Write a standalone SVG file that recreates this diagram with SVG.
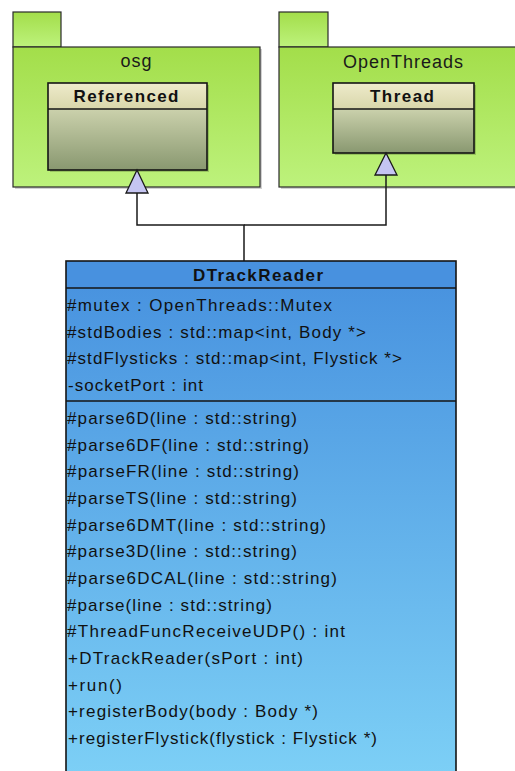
<svg xmlns="http://www.w3.org/2000/svg" width="515" height="771" viewBox="0 0 515 771">
  <defs>
    <linearGradient id="pkgFill" x1="0" y1="0" x2="0" y2="1">
      <stop offset="0" stop-color="#a3de4a"/>
      <stop offset="1" stop-color="#bdf27c"/>
    </linearGradient>
    <linearGradient id="hdrFill" x1="0" y1="0" x2="0" y2="1">
      <stop offset="0" stop-color="#eeebcb"/>
      <stop offset="1" stop-color="#d8d6aa"/>
    </linearGradient>
    <linearGradient id="bodyFill" x1="0" y1="0" x2="0" y2="1">
      <stop offset="0" stop-color="#cbd1ac"/>
      <stop offset="1" stop-color="#899870"/>
    </linearGradient>
    <linearGradient id="clsFill" x1="0" y1="0" x2="0" y2="1">
      <stop offset="0" stop-color="#4690de"/>
      <stop offset="1" stop-color="#7dd0f6"/>
    </linearGradient>
  </defs>
  <style>
    .pkg { fill: url(#pkgFill); stroke: #2a2a2a; stroke-width: 1.2; }
    .shadow { fill: #000; opacity: 0.18; }
    .box { stroke: #151515; stroke-width: 1.6; }
    .sep { stroke: #151515; stroke-width: 1.6; }
    .pkgname { font-family: "Liberation Sans", Arial, sans-serif; font-size: 18px; fill: #1a1a1a; text-anchor: middle; }
    .cname { font-family: "Liberation Sans", Arial, sans-serif; font-size: 17px; font-weight: bold; fill: #111; text-anchor: middle; }
    .member { font-family: "Liberation Sans", Arial, sans-serif; font-size: 17px; fill: #111; }
    .edge { fill: none; stroke: #1a1a1a; stroke-width: 1.5; }
    .head { fill: #c5c5f2; stroke: #1a1a1a; stroke-width: 1.3; }
  </style>

  <!-- package osg -->
  <g id="pkg-osg">
    <rect class="shadow" x="15" y="49" width="247" height="140"/>
    <rect class="pkg" x="13" y="12" width="48" height="35"/>
    <rect class="pkg" x="13" y="47" width="247" height="140"/>
    <text class="pkgname" x="136" y="67" textLength="31" lengthAdjust="spacing">osg</text>
  </g>

  <!-- package OpenThreads -->
  <g id="pkg-openthreads">
    <rect class="shadow" x="281" y="49" width="240" height="140"/>
    <rect class="pkg" x="279" y="12" width="49" height="35"/>
    <rect class="pkg" x="279" y="47" width="240" height="140"/>
    <text class="pkgname" x="403" y="68" textLength="120" lengthAdjust="spacing">OpenThreads</text>
  </g>

  <!-- class Referenced -->
  <g id="cls-referenced">
    <rect class="shadow" x="50" y="85" width="159" height="87"/>
    <rect x="48" y="83" width="159" height="26" fill="url(#hdrFill)"/>
    <rect x="48" y="109" width="159" height="61" fill="url(#bodyFill)"/>
    <rect class="box" x="48" y="83" width="159" height="87" fill="none"/>
    <line class="sep" x1="48" y1="109" x2="207" y2="109"/>
    <text class="cname" x="126" y="102" textLength="105" lengthAdjust="spacing">Referenced</text>
  </g>

  <!-- class Thread -->
  <g id="cls-thread">
    <rect class="shadow" x="335" y="85" width="141" height="70"/>
    <rect x="333" y="83" width="141" height="26" fill="url(#hdrFill)"/>
    <rect x="333" y="109" width="141" height="44" fill="url(#bodyFill)"/>
    <rect class="box" x="333" y="83" width="141" height="70" fill="none"/>
    <line class="sep" x1="333" y1="109" x2="474" y2="109"/>
    <text class="cname" x="402" y="102" textLength="64" lengthAdjust="spacing">Thread</text>
  </g>

  <!-- generalization connectors -->
  <g id="connectors">
    <polyline class="edge" points="244,261 244,225 137,225 137,193"/>
    <polyline class="edge" points="244,225 386,225 386,175"/>
    <polygon class="head" points="137,170 126,193 148,193"/>
    <polygon class="head" points="386,153 375,175 397,175"/>
  </g>

  <!-- class DTrackReader -->
  <g id="cls-dtrackreader">
    <rect x="66" y="261" width="390" height="520" fill="url(#clsFill)"/>
    <rect x="66" y="261" width="390" height="27" fill="#4891df"/>
    <rect class="box" x="66" y="261" width="390" height="520" fill="none"/>
    <line class="sep" x1="66" y1="288" x2="456" y2="288"/>
    <line class="sep" x1="66" y1="401" x2="456" y2="401"/>
    <text class="cname" x="258" y="281" textLength="130" lengthAdjust="spacing">DTrackReader</text>

    <text class="member" x="67" y="311" textLength="265" lengthAdjust="spacing">#mutex : OpenThreads::Mutex</text>
    <text class="member" x="67" y="337.5" textLength="299" lengthAdjust="spacing">#stdBodies : std::map&lt;int, Body *&gt;</text>
    <text class="member" x="67" y="364" textLength="335" lengthAdjust="spacing">#stdFlysticks : std::map&lt;int, Flystick *&gt;</text>
    <text class="member" x="68" y="390.5" textLength="135" lengthAdjust="spacing">-socketPort : int</text>

    <text class="member" x="67" y="424" textLength="230" lengthAdjust="spacing">#parse6D(line : std::string)</text>
    <text class="member" x="67" y="450.7" textLength="242" lengthAdjust="spacing">#parse6DF(line : std::string)</text>
    <text class="member" x="67" y="477.3" textLength="232" lengthAdjust="spacing">#parseFR(line : std::string)</text>
    <text class="member" x="67" y="504" textLength="230" lengthAdjust="spacing">#parseTS(line : std::string)</text>
    <text class="member" x="67" y="530.7" textLength="259" lengthAdjust="spacing">#parse6DMT(line : std::string)</text>
    <text class="member" x="67" y="557.3" textLength="230" lengthAdjust="spacing">#parse3D(line : std::string)</text>
    <text class="member" x="67" y="584" textLength="270" lengthAdjust="spacing">#parse6DCAL(line : std::string)</text>
    <text class="member" x="67" y="610.7" textLength="205" lengthAdjust="spacing">#parse(line : std::string)</text>
    <text class="member" x="67" y="637.3" textLength="278" lengthAdjust="spacing">#ThreadFuncReceiveUDP() : int</text>
    <text class="member" x="68" y="664" textLength="235" lengthAdjust="spacing">+DTrackReader(sPort : int)</text>
    <text class="member" x="68" y="690.7" textLength="54" lengthAdjust="spacing">+run()</text>
    <text class="member" x="68" y="717.3" textLength="250" lengthAdjust="spacing">+registerBody(body : Body *)</text>
    <text class="member" x="68" y="744" textLength="309" lengthAdjust="spacing">+registerFlystick(flystick : Flystick *)</text>
  </g>
</svg>
